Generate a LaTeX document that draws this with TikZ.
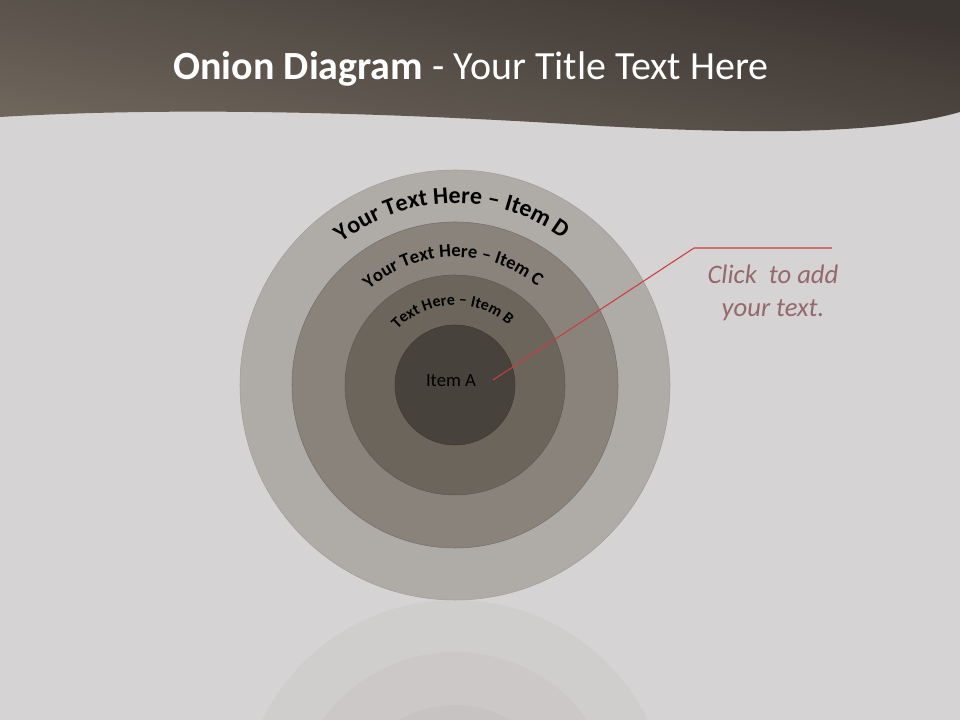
\documentclass[tikz,border=0pt]{standalone}
\usepackage{fontspec}
\setmainfont{Carlito}
\usetikzlibrary{decorations.text}
\definecolor{bg}{RGB}{213,211,211}
\definecolor{bandlight}{RGB}{110,101,91}
\definecolor{banddark}{RGB}{60,54,50}
\definecolor{ringD}{RGB}{175,171,167}
\definecolor{ringC}{RGB}{138,131,124}
\definecolor{ringB}{RGB}{108,101,92}
\definecolor{ringA}{RGB}{72,66,60}
\definecolor{callred}{RGB}{205,60,65}
\definecolor{calltext}{RGB}{148,104,108}
\definecolor{reflcol}{RGB}{150,145,140}
\newcommand\fontD{\fontsize{18}{18}\selectfont\bfseries}
\newcommand\fontC{\fontsize{14}{14}\selectfont\bfseries}
\newcommand\fontB{\fontsize{12}{12}\selectfont\bfseries}
\tikzset{
  ring/.style={circle, inner sep=0pt, line width=0.4pt},
  arctext/.style={decorate, decoration={text along path, text align=center, text color=black}},
  callout/.style={draw=callred, line width=0.8pt},
  refl/.style={fill=reflcol, opacity=0.08},
}
\begin{document}
\begin{tikzpicture}[x=0.75pt,y=0.75pt]
\useasboundingbox (0,0) rectangle (960,720);
\fill[bg] (0,0) rectangle (960,720);
% title band
\shade[top color=banddark, bottom color=bandlight, shading angle=-12]
  (0,603) .. controls (150,612) and (350,610) .. (600,594)
  .. controls (750,586) and (880,585) .. (960,608) -- (960,720) -- (0,720) -- cycle;
\node[anchor=base, text=white, font=\fontsize{30}{30}\selectfont] (title) at (471,640)
  {\textbf{Onion Diagram} - Your Title Text Here};
% reflection
\begin{scope}
  \clip (0,0) rectangle (960,119);
  \fill[refl] (455,-95) circle[radius=215];
  \fill[refl] (455,-95) circle[radius=163];
  \fill[refl] (455,-95) circle[radius=110];
  \fill[refl] (455,-95) circle[radius=60];
\end{scope}
% rings
\node[ring, fill=ringD, minimum size=430*0.75pt, draw=ringD!92!black] (D) at (455,335) {};
\node[ring, fill=ringC, minimum size=326*0.75pt, draw=ringC!85!black] (C) at (455,335) {};
\node[ring, fill=ringB, minimum size=220*0.75pt, draw=ringB!88!black] (B) at (455,335) {};
\node[ring, fill=ringA, minimum size=120*0.75pt, draw=ringA!88!black] (A) at (455,335) {};
\node[font=\fontsize{14}{14}\selectfont, text=black] (Alab) at (451,339) {Item A};
% curved labels
\path[arctext, decoration={text={|\fontD|Your Text Here – Item D}}]
  (A.center) ++(181:182) arc[start angle=181, end angle=1, radius=182];
\path[arctext, decoration={text={|\fontC|Your Text Here – Item C}}]
  (A.center) ++(181:128) arc[start angle=181, end angle=1, radius=128];
\path[arctext, decoration={text={|\fontB|Text Here – Item B}}]
  (A.center) ++(182:80) arc[start angle=182, end angle=2, radius=80];
% callout
\coordinate (p0) at (493,340);
\coordinate (p1) at (694,472);
\coordinate (p2) at (832,472);
\draw[callout] (p0) -- (p1) -- (p2);
\node[align=center, text=calltext, font=\fontsize{20}{25}\selectfont\itshape] (note) at (773,427)
  {Click\ \ to add\\your text.};
\end{tikzpicture}
\end{document}
